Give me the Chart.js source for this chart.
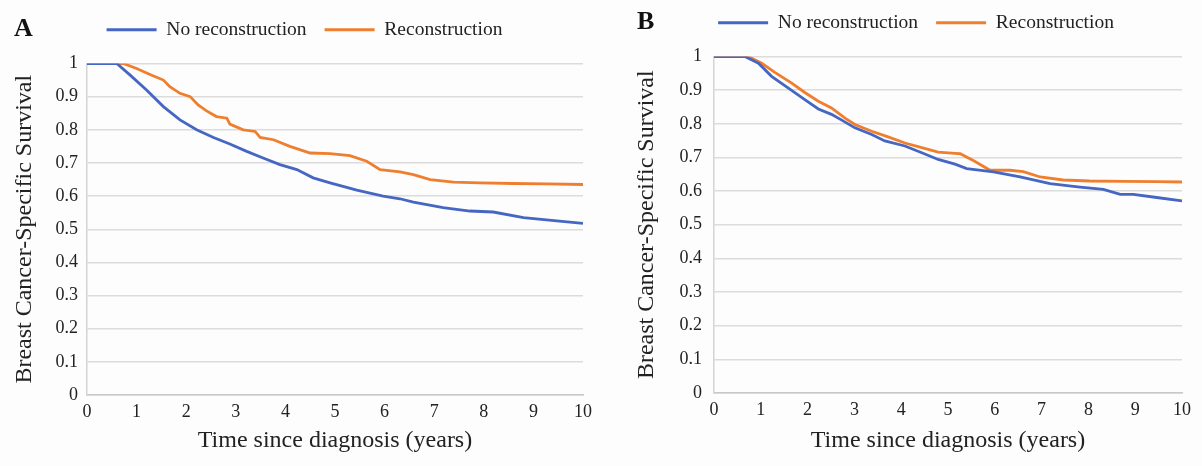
<!DOCTYPE html>
<html>
<head>
<meta charset="utf-8">
<script src="https://cdn.jsdelivr.net/npm/chart.js@4.4.0/dist/chart.umd.min.js"></script>
<style>
  body { margin: 0; background: #fff; }
  #wrap { position: relative; width: 1202px; height: 466px; overflow: hidden; background: #fdfdfd; }
  canvas { position: absolute; top: 0; }
  .panel-letter { position: absolute; font-family: 'Liberation Serif', 'Times New Roman', serif; font-weight: bold; font-size: 26px; line-height: 1; color: #111; }
</style>
</head>
<body>
<div id="wrap">
  <canvas id="chartA" width="600" height="466" style="left:0px"></canvas>
  <canvas id="chartB" width="602" height="466" style="left:600px"></canvas>
  <div class="panel-letter" style="left:14px;top:15px">A</div>
  <div class="panel-letter" style="left:637px;top:8px">B</div>
</div>
<script>
// tick labels
const xTickLabels = ['0', '1', '2', '3', '4', '5', '6', '7', '8', '9', '10'];
const yTickLabels = ['0', '0.1', '0.2', '0.3', '0.4', '0.5', '0.6', '0.7', '0.8', '0.9', '1'];
const seriesNames = ['No reconstruction', 'Reconstruction'];

// panel A - years / survival
const timeA_noRecon = [0, 0.6, 0.87, 1.2, 1.54, 1.875, 2.21, 2.55, 2.88, 3.22, 3.55, 3.89, 4.23, 4.56, 4.9, 5.44, 5.97, 6.31, 6.58, 7.18, 7.72, 8.19, 8.8, 9.47, 10];
const survA_noRecon = [1, 1, 0.965, 0.92, 0.87, 0.83, 0.8, 0.777, 0.757, 0.735, 0.715, 0.695, 0.68, 0.655, 0.64, 0.618, 0.6, 0.592, 0.582, 0.565, 0.555, 0.552, 0.535, 0.525, 0.518];
const timeA_recon = [0, 0.73, 1.0, 1.27, 1.54, 1.67, 1.875, 2.08, 2.24, 2.41, 2.61, 2.82, 2.88, 3.15, 3.39, 3.49, 3.76, 4.09, 4.5, 4.9, 5.3, 5.64, 5.91, 6.31, 6.58, 6.92, 7.39, 7.92, 8.59, 9.27, 10];
const survA_recon = [1, 1, 0.985, 0.967, 0.95, 0.93, 0.91, 0.9, 0.875, 0.857, 0.84, 0.835, 0.817, 0.8, 0.795, 0.777, 0.77, 0.75, 0.73, 0.728, 0.722, 0.705, 0.68, 0.673, 0.665, 0.65, 0.642, 0.64, 0.638, 0.637, 0.635];

// panel B
const timeB_noRecon = [0, 0.66, 0.95, 1.23, 1.59, 1.94, 2.23, 2.51, 2.73, 3.01, 3.37, 3.65, 4.08, 4.44, 4.79, 5.15, 5.4, 5.97, 6.54, 7.18, 7.82, 8.32, 8.68, 8.96, 9.46, 10];
const survB_noRecon = [1, 1, 0.98, 0.941, 0.906, 0.872, 0.844, 0.828, 0.811, 0.788, 0.768, 0.749, 0.734, 0.714, 0.694, 0.68, 0.667, 0.657, 0.642, 0.622, 0.612, 0.605, 0.59, 0.59, 0.581, 0.571];
const timeB_recon = [0, 0.73, 1.02, 1.3, 1.66, 1.94, 2.23, 2.51, 2.8, 3.01, 3.37, 3.72, 4.08, 4.44, 4.79, 5.15, 5.26, 5.54, 5.9, 6.32, 6.61, 6.97, 7.46, 8.03, 8.75, 9.46, 10];
const survB_recon = [1, 1, 0.98, 0.953, 0.921, 0.893, 0.867, 0.847, 0.817, 0.798, 0.778, 0.761, 0.743, 0.729, 0.716, 0.712, 0.711, 0.691, 0.662, 0.662, 0.658, 0.642, 0.633, 0.63, 0.629, 0.628, 0.627];

const colors = ['#4566C2', '#EF7E2E'];
const serif = "'Liberation Serif', 'Times New Roman', serif";
const textColor = '#222';

Chart.defaults.font.family = serif;
Chart.defaults.color = textColor;

// moves the legend after layout so it sits where the original has it
const legendShift = {
  id: 'legendShift',
  afterLayout(chart, args, opts) {
    const lg = chart.legend;
    lg.left += opts.dx; lg.right += opts.dx;
    lg.top += opts.dy; lg.bottom += opts.dy;
  }
};

function toPoints(times, surv) {
  return times.map(function (t, i) { return { x: t, y: surv[i] }; });
}

function makeChart(id, curves, lay) {
  var ctx = document.getElementById(id).getContext('2d');
  return new Chart(ctx, {
    type: 'line',
    data: {
      datasets: curves.map(function (c, i) {
        return {
          label: seriesNames[i],
          data: c,
          borderColor: colors[i],
          backgroundColor: colors[i],
          borderWidth: 2.8,
          pointRadius: 0,
          tension: 0,
        };
      }),
    },
    plugins: [legendShift],
    options: {
      responsive: false,
      animation: false,
      devicePixelRatio: 1,
      layout: { padding: { left: 0, right: lay.right, top: lay.top, bottom: 0 } },
      plugins: {
        legendShift: { dx: lay.legendDx, dy: lay.legendDy },
        tooltip: { enabled: false },
        legend: {
          position: 'top',
          labels: {
            usePointStyle: true,
            pointStyle: 'line',
            pointStyleWidth: 50,
            padding: 18,
            color: textColor,
            font: { size: 19.5, family: serif },
          },
        },
      },
      scales: {
        x: {
          type: 'linear',
          min: 0,
          max: 10,
          afterFit: function (s) { s.height = lay.xHeight; },
          grid: { display: false, drawTicks: false },
          border: { display: true, color: '#c8c8c8', width: 1.5 },
          ticks: {
            stepSize: 1,
            padding: lay.xPad,
            maxRotation: 0,
            font: { size: 18 },
            color: textColor,
            callback: function (v, i) { return xTickLabels[i]; },
          },
          title: {
            display: true,
            text: 'Time since diagnosis (years)',
            font: { size: 24 },
            color: textColor,
            padding: { top: 0, bottom: 11 },
          },
        },
        y: {
          min: 0,
          max: 1,
          afterFit: function (s) { s.width = lay.yWidth; },
          grid: { color: '#dcdcdc', lineWidth: 1.5, drawTicks: false },
          border: { display: true, color: '#d4d4d4', width: 1.5 },
          ticks: {
            stepSize: 0.1,
            padding: lay.yPad,
            font: { size: 18 },
            color: textColor,
            callback: function (v, i) { return yTickLabels[i]; },
          },
          title: {
            display: true,
            text: 'Breast Cancer-Specific Survival',
            font: { size: 24 },
            color: textColor,
            padding: { top: lay.yTitlePad, bottom: 0 },
          },
        },
      },
    },
  });
}

makeChart('chartA', [toPoints(timeA_noRecon, survA_noRecon), toPoints(timeA_recon, survA_recon)],
  { right: 17, top: 16, xHeight: 71, yWidth: 87, xPad: 6, yPad: 9, yTitlePad: 10.5, legendDx: 13, legendDy: -14 });

makeChart('chartB', [toPoints(timeB_noRecon, survB_noRecon), toPoints(timeB_recon, survB_recon)],
  { right: 20, top: 9, xHeight: 73, yWidth: 114, xPad: 6, yPad: 12, yTitlePad: 32.5, legendDx: 25, legendDy: -14 });
</script>
</body>
</html>
